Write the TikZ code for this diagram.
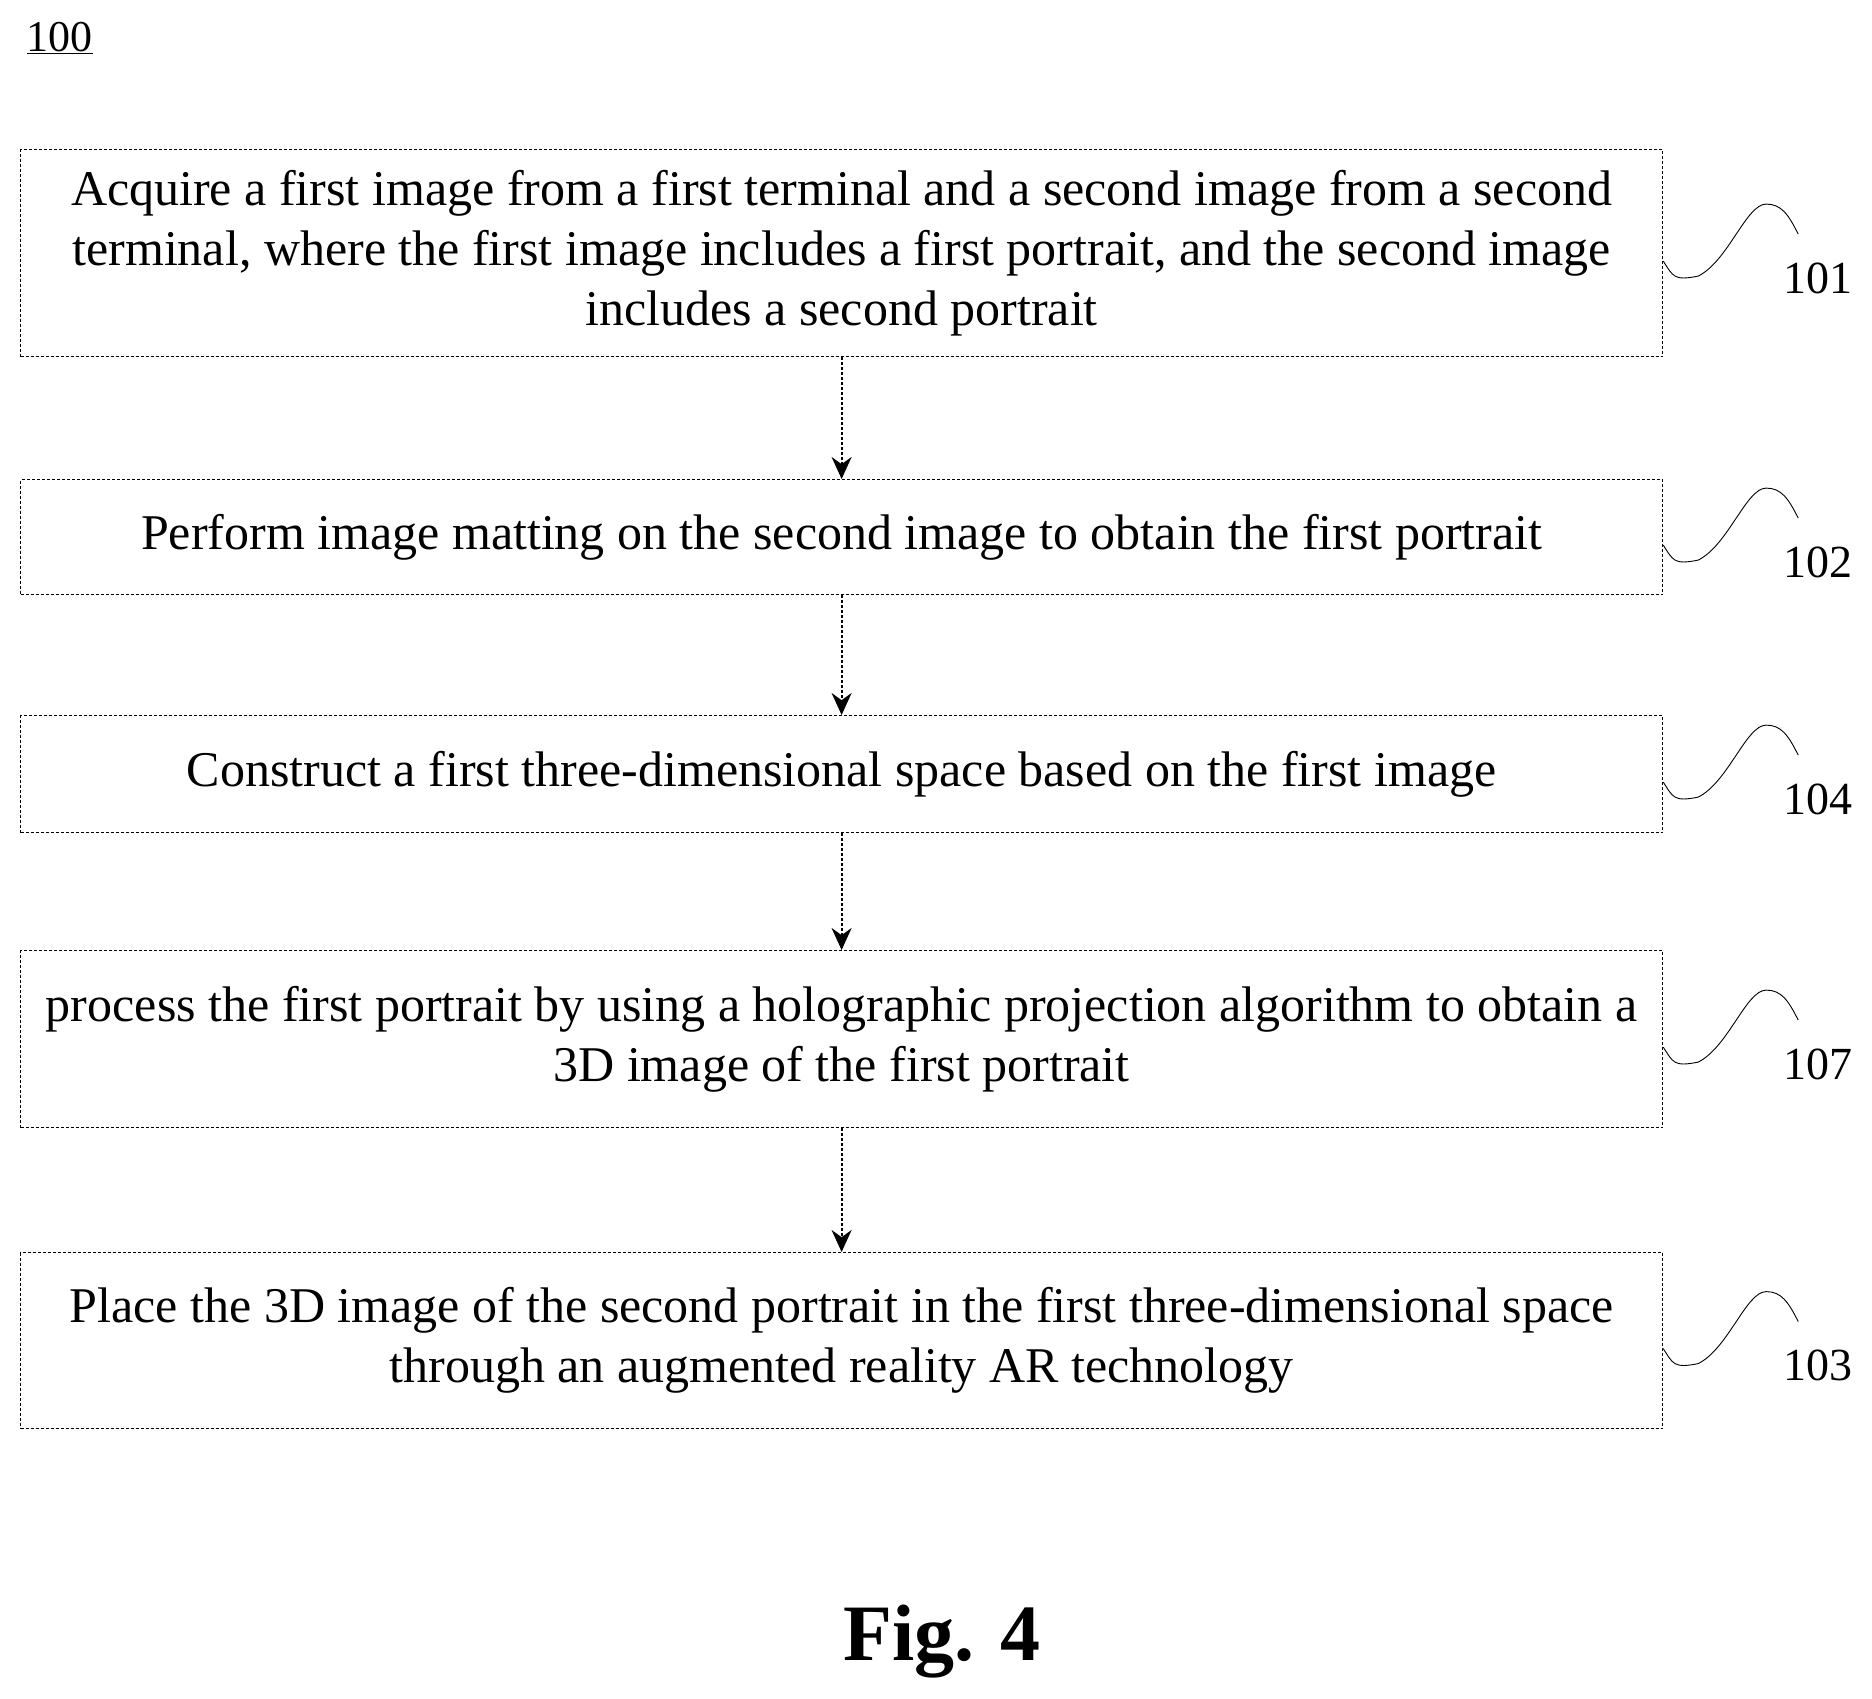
\documentclass[tikz,border=0pt]{standalone}
\usepackage{fontspec}
\setmainfont{Liberation Serif}
\usetikzlibrary{arrows.meta}
\begin{document}
\begin{tikzpicture}[x=1pt,y=-1pt,
  box/.style={draw,densely dashed,line width=1.2pt,minimum width=1642pt,anchor=north west,inner sep=0pt,align=center,font=\fontsize{50}{60}\selectfont},
  arr/.style={densely dashed,line width=2pt,-{Stealth[length=22pt,width=20pt]}},
  sq/.style={line width=0.9pt},
  lab/.style={font=\fontsize{46}{50}\selectfont}]
\useasboundingbox (0,0) rectangle (1872,1698);
\node[font=\fontsize{44}{48}\selectfont] (n100) at (60,38) {\underline{100}};
\node[box,minimum height=207pt] (b1) at (20,149) {Acquire a first image from a first terminal and a second image from a second\\terminal, where the first image includes a first portrait, and the second image\\includes a second portrait};
\node[box,minimum height=115pt] (b2) at (20,479) {Perform image matting on the second image to obtain the first portrait};
\node[box,minimum height=117pt] (b3) at (20,715) {Construct a first three-dimensional space based on the first image};
\node[box,minimum height=177pt] (b4) at (20,950) {process the first portrait by using a holographic projection algorithm to obtain a\\3D image of the first portrait};
\node[box,minimum height=176pt] (b5) at (20,1252) {Place the 3D image of the second portrait in the first three-dimensional space\\through an augmented reality AR technology};
\foreach \a/\b in {b1/b2,b2/b3,b3/b4,b4/b5} \draw[arr] (\a.south) -- (\b.north);
\foreach \b/\t in {b1/101,b2/102,b3/104,b4/107,b5/103}{
  \node[lab,anchor=center] (l\t) at ([xshift=155pt,yshift=-25pt]\b.east) {\t};
  \draw[sq] ([yshift=-8pt]\b.east) .. controls +(10,15) and +(-25,5) .. ++(35,15) .. controls +(30,-15) and +(-20,0) .. ++(68,-72) .. controls +(15,0) and +(-10,-20) .. ++(32,30);
}
\node[font=\bfseries\fontsize{80}{90}\selectfont] (fig) at (942,1642) {Fig. 4};
\end{tikzpicture}
\end{document}
